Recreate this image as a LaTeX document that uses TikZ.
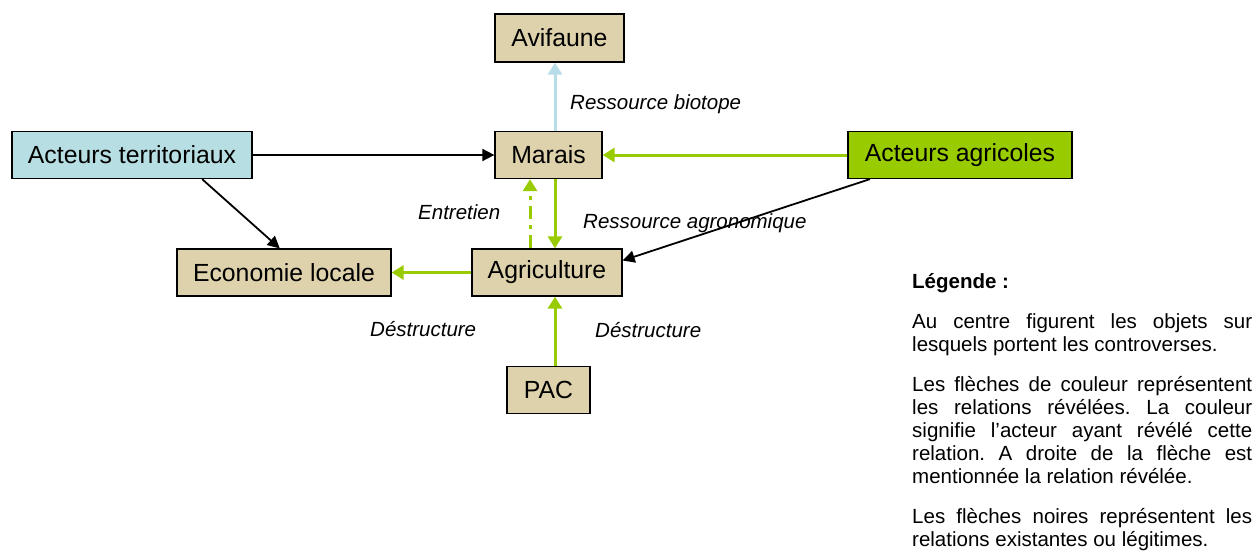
\documentclass[tikz,border=0pt]{standalone}
\usepackage{fontspec}
\setmainfont{Liberation Sans}
\usetikzlibrary{arrows.meta,calc}
\definecolor{tanfill}{RGB}{222,210,172}
\definecolor{bluefill}{RGB}{183,222,226}
\definecolor{agrigreen}{RGB}{153,204,0}
\definecolor{bluearrow}{RGB}{183,222,232}
\begin{document}
\frenchspacing
\begin{tikzpicture}[x=1pt,y=-1pt,
  box/.style={draw=black, line width=1.3pt, minimum width=#1, minimum height=47pt,
    inner sep=0pt, font=\fontsize{24.8}{28}\selectfont},
  tanbox/.style={box=#1, fill=tanfill},
  lbl/.style={font=\fontsize{20.5}{24}\selectfont\itshape, inner sep=0pt, anchor=west},
  leg/.style={font=\fontsize{20.5}{23}\selectfont, inner sep=0pt, anchor=base west},
  blackarrow/.style={draw=black, line width=1.8pt, -{Triangle[width=12pt,length=12pt]}},
  greenarrow/.style={draw=agrigreen, line width=3pt, -{Triangle[width=14pt,length=12pt]}},
  bluearr/.style={draw=bluearrow, line width=3pt, -{Triangle[width=14pt,length=12pt]}},
  dashgreen/.style={greenarrow, dash pattern=on 13pt off 6pt on 4pt off 6pt}
]
\useasboundingbox (0,0) rectangle (1259,554);

% nodes
\node[tanbox=129pt, minimum height=48pt] (avi) at (559.5,38) {Avifaune};
\node[tanbox=107pt] (mar) at (548.5,155) {Marais};
\node[box=240pt, fill=bluefill] (at) at (132,155) {Acteurs territoriaux};
\node[box=224pt, fill=agrigreen] (aa) at (960,155) {Acteurs agricoles};
\node[tanbox=214pt] (eco) at (284,272.5) {Economie locale};
\node[tanbox=150pt] (agri) at (547,272.5) {Agriculture};
\node[tanbox=83pt] (pac) at (548.5,390) {PAC};

% helper coordinates for vertical arrows
\coordinate (xs) at (555,0);
\coordinate (xd) at (530,0);

% connectors
\draw[blackarrow] (at.east) -- (mar.west);
\draw[blackarrow] (at.-19) -- (eco.100);
\draw[greenarrow] (aa.west) -- (mar.east);
\draw[blackarrow] (aa.-165) -- (agri.9.5);
\draw[bluearr] (mar.north -| xs) -- (avi.south -| xs);
\draw[greenarrow] (mar.south -| xs) -- (agri.north -| xs);
\draw[dashgreen] (agri.north -| xd) -- (mar.south -| xd);
\draw[greenarrow] (agri.west) -- (eco.east);
\draw[greenarrow] (pac.north -| xs) -- (agri.south -| xs);

% labels
\node[lbl] (rb) at (570,104) {Ressource biotope};
\node[lbl] (en) at (418,212) {Entretien};
\node[lbl] (ra) at (583,223) {Ressource agronomique};
\node[lbl] (d1) at (370,329) {Déstructure};
\node[lbl] (d2) at (595,330) {Déstructure};

% legend
\node[leg, font=\fontsize{20.5}{23}\selectfont\bfseries] (l0) at (912,288) {Légende :};
\node[leg] (l1) at (912,328) {\makebox[340pt][s]{Au centre figurent les objets sur}};
\node[leg] (l2) at (912,351) {lesquels portent les controverses.};
\node[leg] (l3) at (912,391) {\makebox[340pt][s]{Les flèches de couleur représentent}};
\node[leg] (l4) at (912,414) {\makebox[340pt][s]{les relations révélées. La couleur}};
\node[leg] (l5) at (912,437) {\makebox[340pt][s]{signifie l’acteur ayant révélé cette}};
\node[leg] (l6) at (912,460) {\makebox[340pt][s]{relation. A droite de la flèche est}};
\node[leg] (l7) at (912,483) {mentionnée la relation révélée.};
\node[leg] (l8) at (912,523) {\makebox[340pt][s]{Les flèches noires représentent les}};
\node[leg] (l9) at (912,546) {relations existantes ou légitimes.};
\end{tikzpicture}
\end{document}
